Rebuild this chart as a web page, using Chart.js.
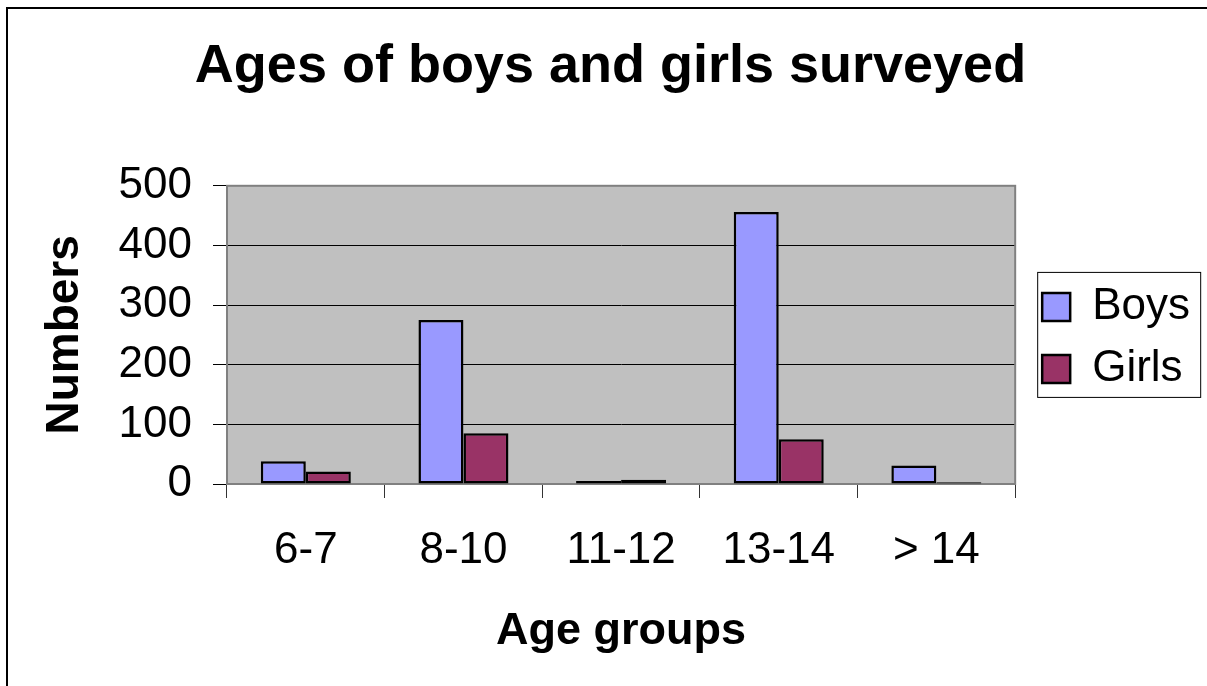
<!DOCTYPE html>
<html>
<head>
<meta charset="utf-8">
<title>Ages of boys and girls surveyed</title>
<script src="https://cdn.jsdelivr.net/npm/chart.js@4/dist/chart.umd.min.js"></script>
<style>
  html, body { margin: 0; padding: 0; background: #fff; overflow: hidden; }
  #wrap { position: relative; width: 1207px; height: 686px; }
  #frame {
    position: absolute; left: 6px; top: 7px; width: 1400px; height: 900px;
    border-left: 2px solid #000; border-top: 2px solid #000;
  }
  #chart { position: absolute; left: 0; top: 0; }
</style>
</head>
<body>
<div id="wrap">
  <div id="frame"></div>
  <canvas id="chart" width="1207" height="686"></canvas>
</div>
<script>
// ── DATA ──
const AGE_GROUPS = ['6-7', '8-10', '11-12', '13-14', '> 14'];
const BOYS  = [38, 275, 5, 456, 31];
const GIRLS = [21, 85, 7, 75, 3];
const Y_TICKS = [0, 100, 200, 300, 400, 500];

const FONT = "'Liberation Sans', Arial, Helvetica, sans-serif";

// ── PLOT BACKGROUND + FRAME, LEGEND BOX ──
const plotDecor = {
  id: 'plotDecor',
  beforeDraw(chart) {
    const {ctx, chartArea: a} = chart;
    ctx.save();
    ctx.fillStyle = '#c0c0c0';
    ctx.fillRect(a.left, a.top, a.right - a.left, a.bottom - a.top);
    ctx.restore();
  },
  beforeDatasetsDraw(chart) {
    const {ctx, chartArea: a} = chart;
    ctx.save();
    ctx.strokeStyle = '#808080';
    ctx.lineWidth = 2;
    ctx.strokeRect(a.left, a.top, a.right - a.left, a.bottom - a.top);
    ctx.restore();
  },
  afterLayout(chart) {
    // nudge the legend a little right/down, like the Excel original
    const lg = chart.legend;
    lg.left += 9; lg.right += 9;
    lg.top += 3;  lg.bottom += 3;
  },
  afterDraw(chart) {
    const {ctx, chartArea: a, legend: lg} = chart;
    const mid = (a.top + a.bottom) / 2;
    ctx.save();
    ctx.strokeStyle = '#000';
    ctx.lineWidth = 1;
    ctx.strokeRect(lg.left + 13.5, mid - 62.5, 163, 125);
    ctx.restore();
  }
};

new Chart(document.getElementById('chart'), {
  type: 'bar',
  data: {
    labels: AGE_GROUPS,
    datasets: [
      { label: 'Boys',  data: BOYS,  backgroundColor: '#9999ff', borderColor: '#000', borderWidth: 2.5, borderSkipped: false },
      { label: 'Girls', data: GIRLS, backgroundColor: '#993366', borderColor: '#000', borderWidth: 2.5, borderSkipped: false },
    ]
  },
  options: {
    responsive: false,
    animation: false,
    categoryPercentage: 0.571,
    barPercentage: 1,
    layout: { padding: { top: 8, left: 30, right: 16, bottom: 0 } },
    plugins: {
      title: {
        display: true,
        text: 'Ages of boys and girls surveyed',
        color: '#000',
        font: { family: FONT, size: 54, weight: 'bold' },
        padding: { top: 27, bottom: 86 },
      },
      legend: {
        position: 'right',
        fullSize: false,
        labels: {
          color: '#000',
          font: { family: FONT, size: 44 },
          boxWidth: 28, boxHeight: 28, padding: 18,
        }
      },
      tooltip: { enabled: false },
    },
    scales: {
      x: {
        afterFit: s => { s.height = 202; },
        grid: { offset: true, drawOnChartArea: false, tickLength: 14, tickColor: '#333', color: '#333' },
        border: { color: '#808080', width: 2 },
        ticks: { color: '#000', font: { family: FONT, size: 44 }, padding: 26 },
        title: {
          display: true, text: 'Age groups', color: '#000',
          font: { family: FONT, size: 45, weight: 'bold' },
          padding: { top: 0, bottom: 27 },
        },
      },
      y: {
        min: 0, max: 500,
        afterFit: s => { s.width = 197; },
        afterBuildTicks: s => { s.ticks = Y_TICKS.map(v => ({ value: v })); },
        grid: { color: '#000', tickLength: 14, tickColor: '#000' },
        border: { color: '#000', width: 1 },
        ticks: { color: '#000', font: { family: FONT, size: 44 }, padding: 21 },
        title: {
          display: true, text: 'Numbers', color: '#000',
          font: { family: FONT, size: 46, weight: 'bold' },
          padding: { top: 8, bottom: 0 },
        },
      }
    }
  },
  plugins: [plotDecor]
});
</script>
</body>
</html>
